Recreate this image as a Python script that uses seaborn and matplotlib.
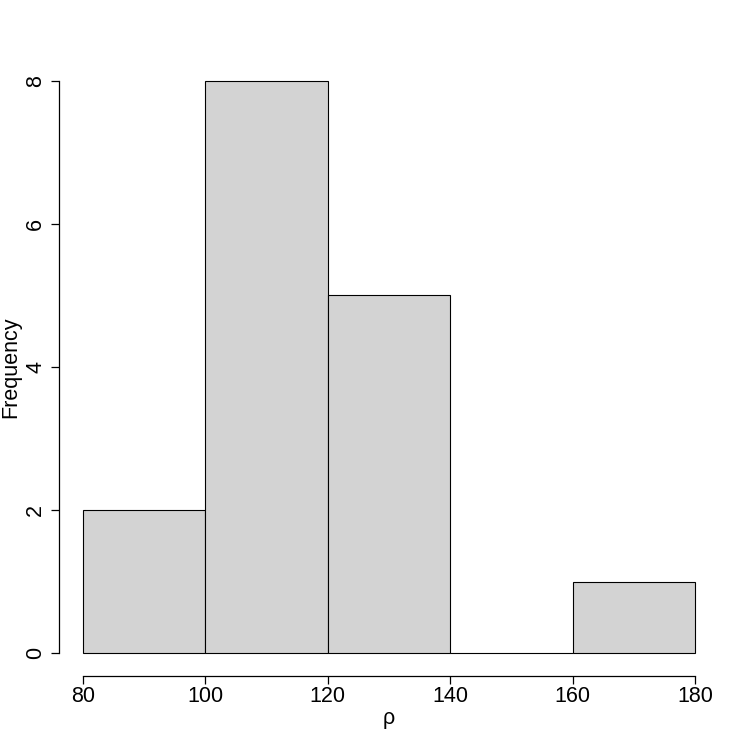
import matplotlib
matplotlib.use("Agg")
import matplotlib.pyplot as plt
import seaborn as sns
import pandas as pd

# bin edges and counts of the histogram
bin_edges = [80, 100, 120, 140, 160, 180]
counts = [2, 8, 5, 0, 1]
mids = [(a + b) / 2 for a, b in zip(bin_edges[:-1], bin_edges[1:])]
x_ticks = [80, 100, 120, 140, 160, 180]
y_ticks = [0, 2, 4, 6, 8]

sns.set_style("white")
plt.rcParams['font.family'] = ['Liberation Sans', 'DejaVu Sans']
plt.rcParams['text.color'] = 'black'
plt.rcParams['axes.labelcolor'] = 'black'

df = pd.DataFrame({'rho': mids, 'n': counts})

fig = plt.figure(figsize=(7.5, 7.5), dpi=100)
W = H = 750
left, right, top, bottom = 58.5, 719.5, 58, 676
ax = fig.add_axes([left / W, 1 - bottom / H, (right - left) / W, (bottom - top) / H])

sns.histplot(data=df, x='rho', weights='n', bins=bin_edges, ax=ax,
             color='#D3D3D3', alpha=1, edgecolor='black', linewidth=0.8)

# R-like extended limits (4%)
ax.set_xlim(76, 184)
ax.set_ylim(-0.32, 8.32)

for s in ['top', 'right']:
    ax.spines[s].set_visible(False)
ax.spines['left'].set_bounds(0, 8)
ax.spines['bottom'].set_bounds(80, 180)
for s in ['left', 'bottom']:
    ax.spines[s].set_linewidth(0.9)
    ax.spines[s].set_color('black')

ax.set_xticks(x_ticks)
ax.set_yticks(y_ticks)
ax.tick_params(axis='both', direction='out', length=5.8, width=0.9, colors='black',
               labelsize=15.5, left=True, bottom=True)
ax.tick_params(axis='x', pad=1.5)
ax.tick_params(axis='y', pad=3)
for lab in ax.get_yticklabels():
    lab.set_rotation(90)
    lab.set_va('center')

ax.set_xlabel('ρ', fontsize=15.5)
ax.set_ylabel('Frequency', fontsize=15.5)
ax.xaxis.set_label_coords(0.5, -0.052)
ax.yaxis.set_label_coords(-0.057, 0.5)
ax.grid(False)

fig.savefig('out.png', dpi=100)
